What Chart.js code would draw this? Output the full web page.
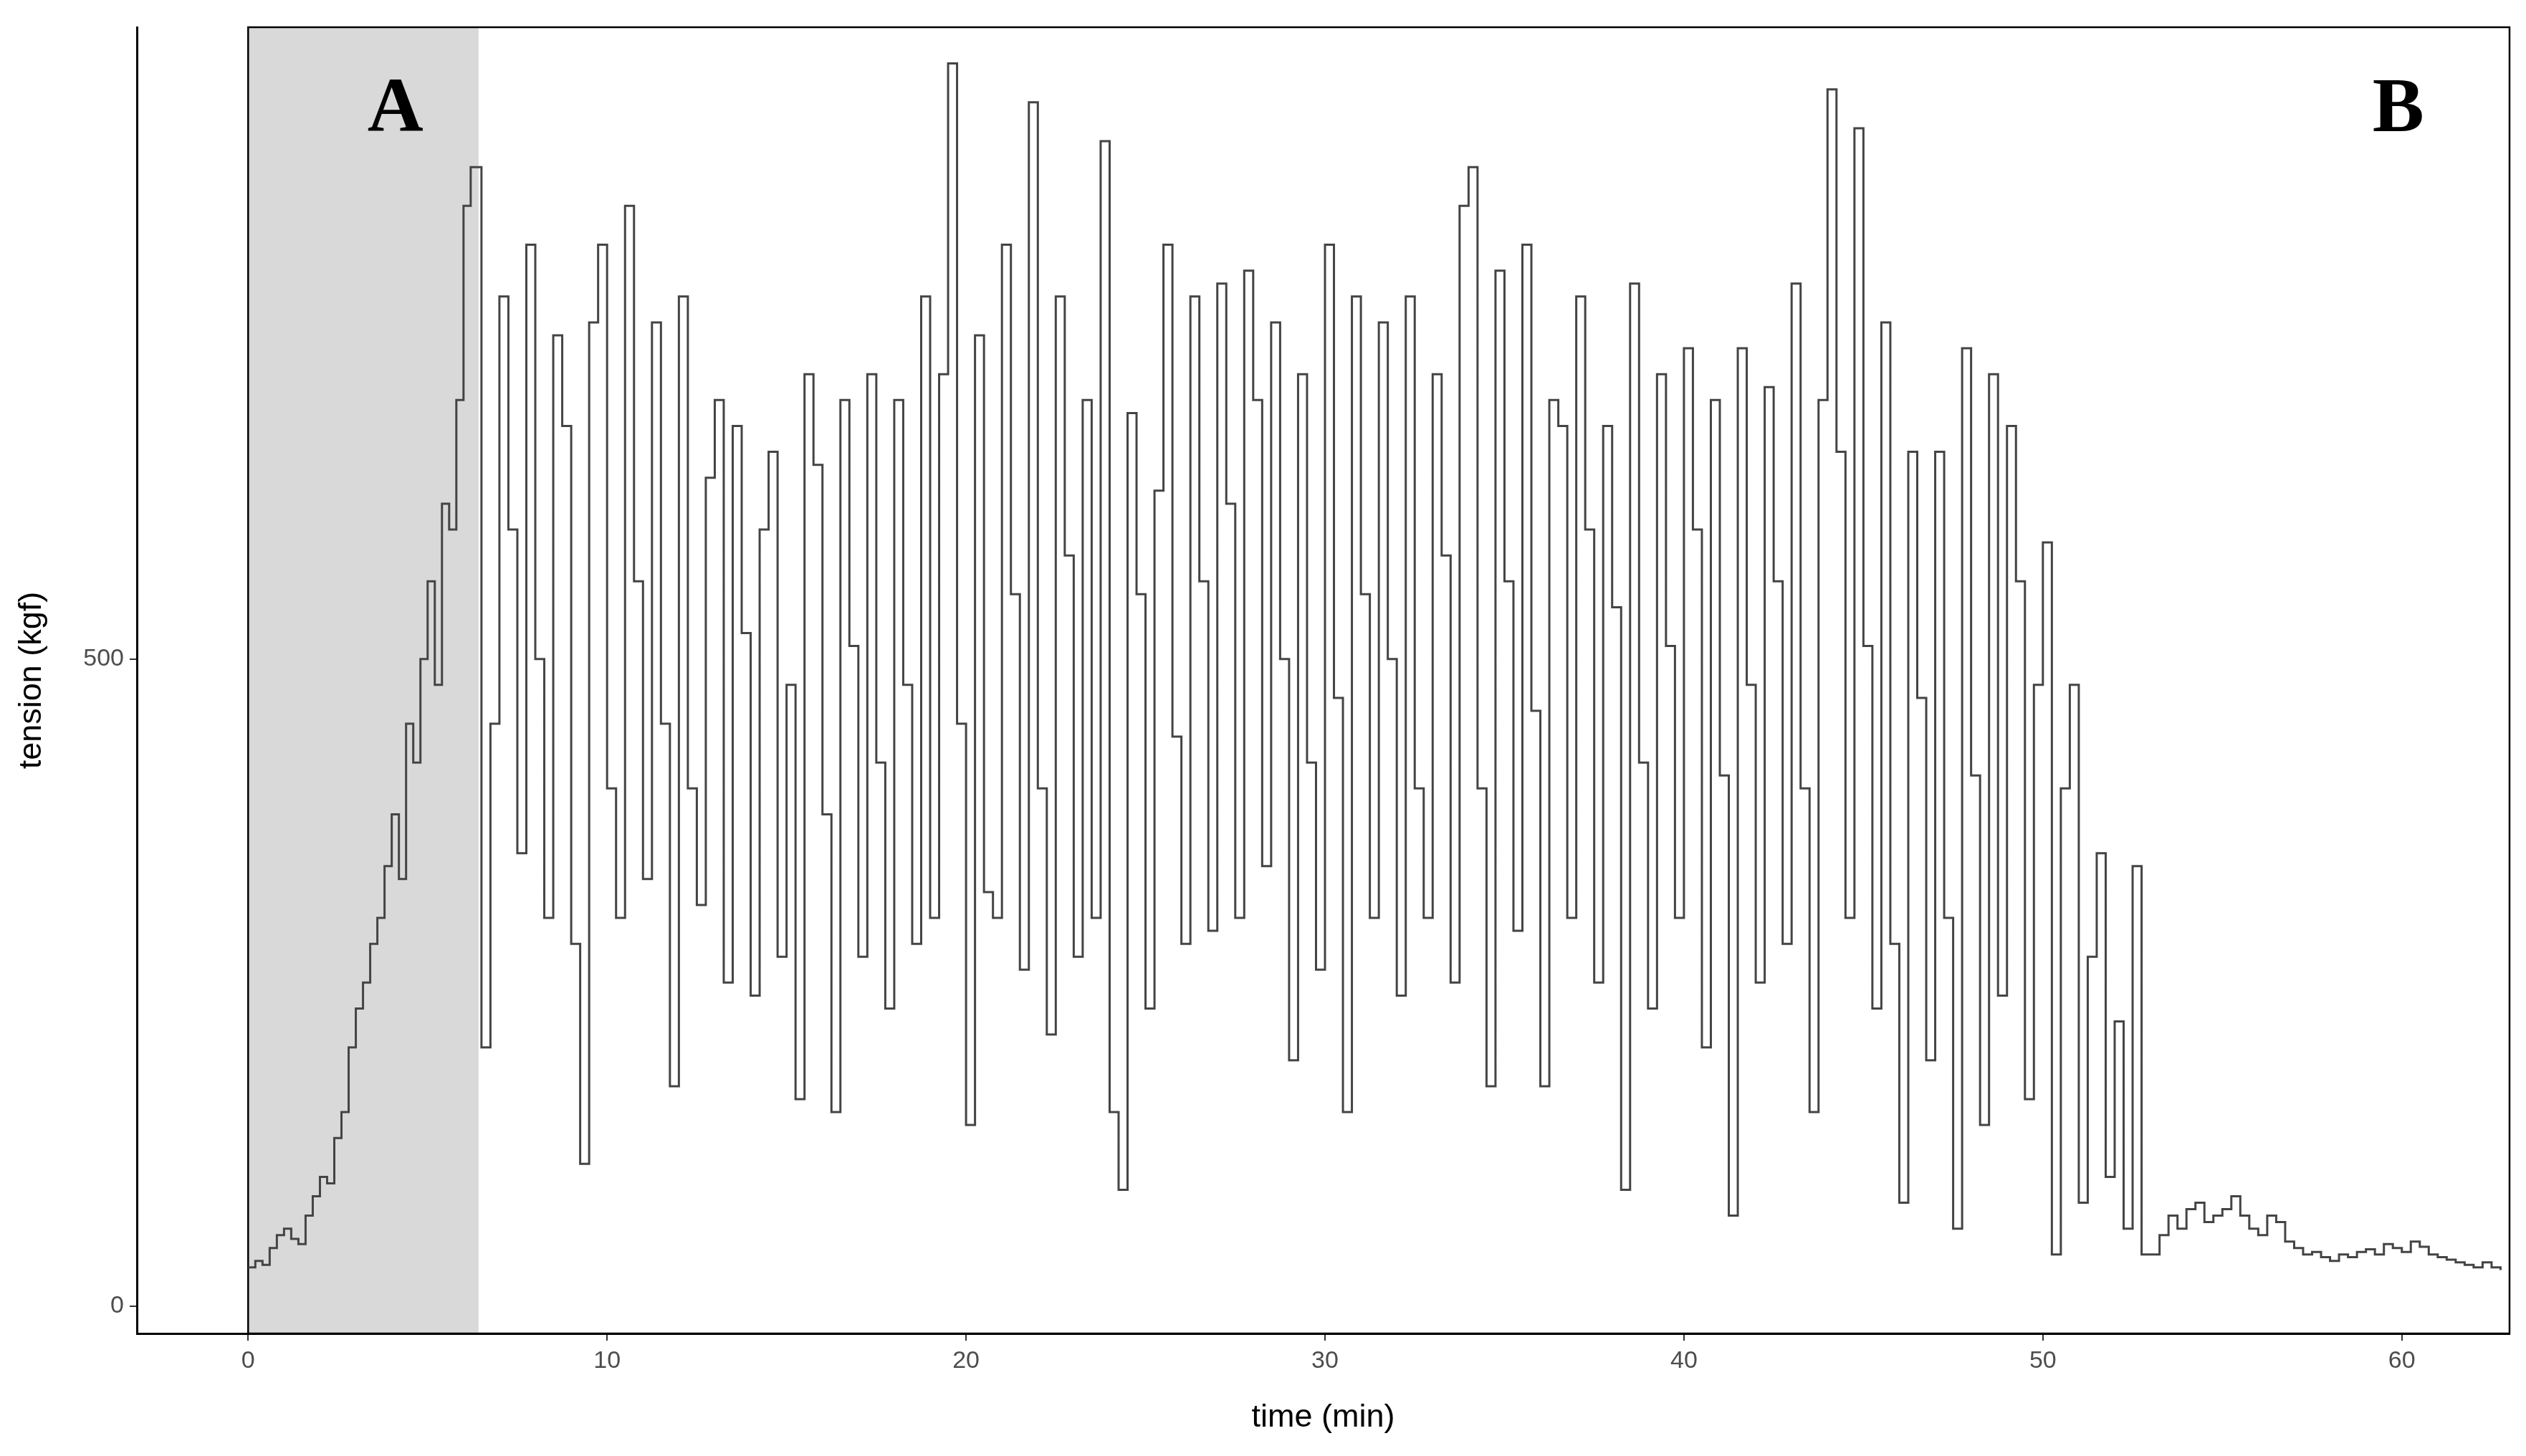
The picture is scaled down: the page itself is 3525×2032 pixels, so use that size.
<!DOCTYPE html>
<html>
<head>
<meta charset="utf-8">
<script src="https://cdn.jsdelivr.net/npm/chart.js@4/dist/chart.umd.min.js"></script>
<style>
  html, body { margin: 0; padding: 0; background: #fff; }
  #wrap { width: 3525px; height: 2032px; }
</style>
</head>
<body>
<div id="wrap"><canvas id="chartTension"></canvas></div>
<script>
// phase A: ramp-up, sampled every 0.2 min from 0
const rampValues = [30,35,32,45,55,60,52,48,70,85,100,95,130,150,200,230,250,280,300,340,380,330,450,420,500,560,480,620,600,700,850,880]
// phase B: oscillation, sampled every 0.25 min from 6.5
const cycleValues = [
  200,450,780,600,350,820,500,300,750,680,
  280,110,760,820,400,300,850,560,330,760,
  450,170,780,400,310,640,700,250,680,520,
  240,600,660,270,480,160,720,650,380,150,
  700,510,270,720,420,230,700,480,280,780,
  300,720,960,450,140,750,320,300,820,550,
  260,930,400,210,780,580,270,700,300,900,
  150,90,690,550,230,630,820,440,280,780,
  560,290,790,620,300,800,700,340,760,500,
  190,720,420,260,820,470,150,780,550,300,
  760,500,240,780,400,300,720,580,250,850,
  880,400,170,800,560,290,820,460,170,700,
  680,300,780,600,250,680,540,90,790,420,
  230,720,510,300,740,600,200,700,410,70,
  740,480,250,710,560,280,790,400,150,700,
  940,660,300,910,510,230,760,280,80,660,
  470,190,660,300,60,740,410,140,720,240,
  680,560,160,480,590,40,400,480,80,270,
  350,100,220,60,340,40
]
// tail after the end of hauling, every 0.25 min from 53
const tailValues = [40,55,70,60,75,80,65,70,75,85,70,60,55,70,65,50,45,40,42,38,35,40,38,42,44,40,48,45,42,50,46,40,38,36,34,32,30,34,30,28]

const xTicks = [0,10,20,30,40,50,60]
const yTicks = [0,500]
const phaseAEnd = 6.42
const phaseLabels = [{text:'A', x:4.1}, {text:'B', x:59.9}]

const puntos = []
rampValues.forEach((v, i) => puntos.push({x: i * 0.2, y: v}))
cycleValues.forEach((v, i) => puntos.push({x: 6.5 + i * 0.25, y: v}))
tailValues.forEach((v, i) => puntos.push({x: 53 + i * 0.25, y: v}))

const phasePlugin = {
    id: 'phases',
    beforeDatasetsDraw(chart) {
        const {ctx, chartArea, scales} = chart
        const x0 = scales.x.getPixelForValue(0)
        const x1 = scales.x.getPixelForValue(phaseAEnd)
        ctx.save()
        ctx.fillStyle = '#d9d9d9'
        ctx.fillRect(x0, chartArea.top, x1 - x0, chartArea.bottom - chartArea.top)
        ctx.strokeStyle = '#000'
        ctx.lineWidth = 2.5
        ctx.strokeRect(x0, chartArea.top, chartArea.right - x0, chartArea.bottom - chartArea.top)
        ctx.restore()
    },
    afterDatasetsDraw(chart) {
        const {ctx, scales} = chart
        ctx.save()
        ctx.fillStyle = '#000'
        ctx.font = 'bold 108px "Liberation Serif", serif'
        ctx.textAlign = 'center'
        ctx.textBaseline = 'middle'
        phaseLabels.forEach(l => {
            ctx.fillText(l.text, scales.x.getPixelForValue(l.x), scales.y.getPixelForValue(923))
        })
        ctx.restore()
    }
}

const tickFont = {family: 'Liberation Sans, Arial', size: 34}
const titleFont = {family: 'Liberation Sans, Arial', size: 45}

new Chart(document.getElementById('chartTension'), {
    type: 'line',
    data: {
        datasets: [{
            data: puntos,
            stepped: true,
            borderColor: '#444',
            borderWidth: 3,
            pointRadius: 0,
            fill: false
        }]
    },
    options: {
        responsive: true,
        maintainAspectRatio: false,
        animation: false,
        layout: {padding: {top: 38, right: 23, left: 0, bottom: 0}},
        plugins: {legend: {display: false}, tooltip: {enabled: false}},
        scales: {
            x: {
                type: 'linear', min: -3.1, max: 63,
                afterBuildTicks: s => { s.ticks = xTicks.map(v => ({value: v})) },
                afterFit: s => { s.height = 171 },
                ticks: {font: tickFont, color: '#4d4d4d', padding: 8},
                grid: {drawOnChartArea: false, color: '#333', tickLength: 10, lineWidth: 2},
                border: {color: '#000', width: 3},
                title: {display: true, text: 'time (min)', font: titleFont, color: '#000', padding: {top: 4, bottom: 26}}
            },
            y: {
                type: 'linear', min: -21, max: 988,
                afterBuildTicks: s => { s.ticks = yTicks.map(v => ({value: v})) },
                afterFit: s => { s.width = 191 },
                ticks: {font: tickFont, color: '#4d4d4d', padding: 8},
                grid: {drawOnChartArea: false, color: '#333', tickLength: 10, lineWidth: 2},
                border: {color: '#000', width: 3},
                title: {display: true, text: 'tension (kgf)', font: titleFont, color: '#000', padding: {top: 18, bottom: 10}}
            }
        }
    },
    plugins: [phasePlugin]
})
</script>
</body>
</html>
